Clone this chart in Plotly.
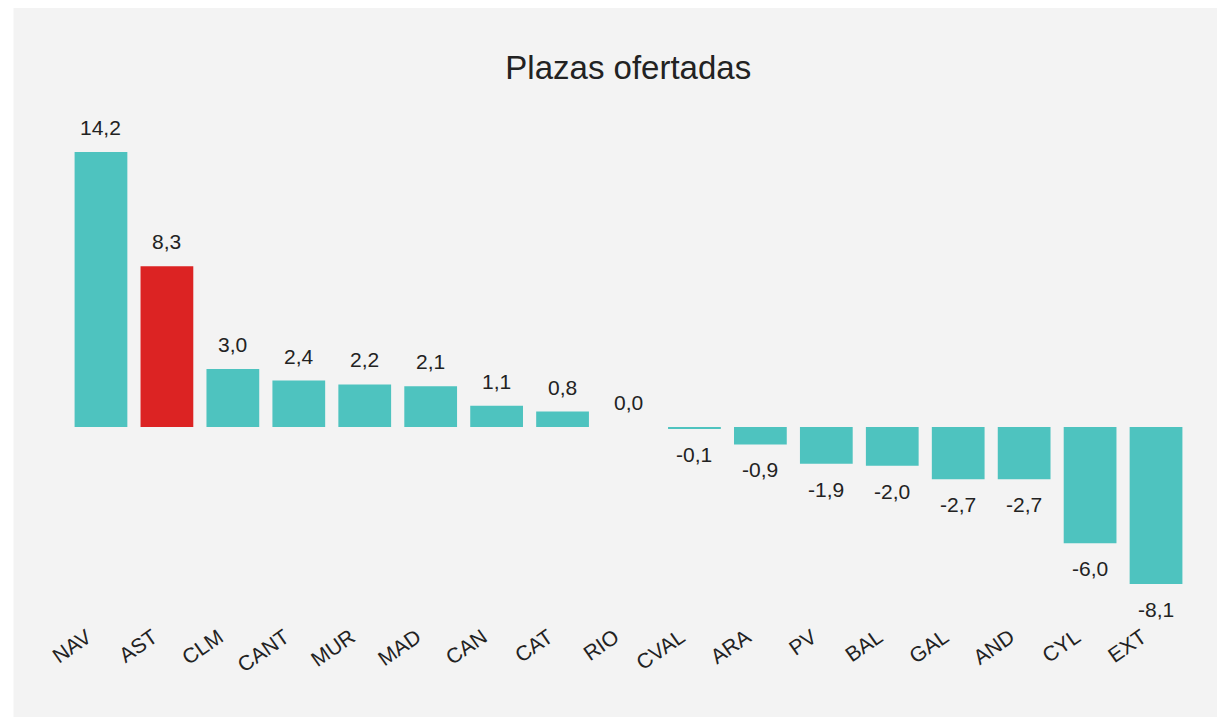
import plotly.graph_objects as go

categories = ["NAV", "AST", "CLM", "CANT", "MUR", "MAD", "CAN", "CAT", "RIO",
              "CVAL", "ARA", "PV", "BAL", "GAL", "AND", "CYL", "EXT"]
values = [14.2, 8.3, 3.0, 2.4, 2.2, 2.1, 1.1, 0.8, 0.0,
          -0.1, -0.9, -1.9, -2.0, -2.7, -2.7, -6.0, -8.1]
highlight = "AST"
title_text = "Plazas ofertadas"

TEAL = "#4ec3bf"
RED = "#dc2323"
TXT = "#222222"
FONT = "Liberation Sans, Arial, sans-serif"

W, H = 1217, 709
L, R, T, B = 59.5, 36, 92, 117
pw, ph = W - L - R, H - T - B

colors = [RED if c == highlight else TEAL for c in categories]

fig = go.Figure()
fig.add_trace(go.Bar(
    x=categories, y=values, marker=dict(color=colors, line=dict(width=0)),
    hoverinfo="x+y", cliponaxis=False,
))

def fmt(v):
    return f"{v:.1f}".replace(".", ",")

for c, v in zip(categories, values):
    fig.add_annotation(
        x=c, y=v, text=fmt(v), showarrow=False,
        yanchor="bottom" if v >= 0 else "top",
        yshift=11 if v >= 0 else -12,
        font=dict(size=21, color=TXT, family=FONT),
    )

def px2x(px):
    return (px - L) / pw

def py2y(py):
    return (H - B - py) / ph

fig.add_shape(type="rect", xref="paper", yref="paper",
              x0=px2x(5), x1=px2x(W + 2), y0=py2y(H + 2), y1=py2y(-1),
              fillcolor="#f3f3f3", line=dict(width=0), layer="below")

fig.update_layout(
    width=W, height=H,
    margin=dict(l=L, r=R, t=T, b=B),
    paper_bgcolor="white", plot_bgcolor="rgba(0,0,0,0)",
    bargap=0.2, showlegend=False,
    title=dict(text=title_text, x=0.5 * (L + (W - R)) / W, xanchor="center",
               y=1 - 59 / H, yanchor="middle",
               font=dict(size=33, color=TXT, family=FONT)),
    font=dict(family=FONT, color=TXT),
    xaxis=dict(showgrid=False, showline=False, zeroline=False, ticks="",
               tickangle=-35, tickfont=dict(size=21, color=TXT, family=FONT),
               ticklabelstandoff=20, ticklabelshift=-14,
               range=[-0.5, len(categories) - 0.5]),
    yaxis=dict(visible=False, range=[-8.93, 16.88], showgrid=False, zeroline=False),
)

fig.write_html("out.html")
